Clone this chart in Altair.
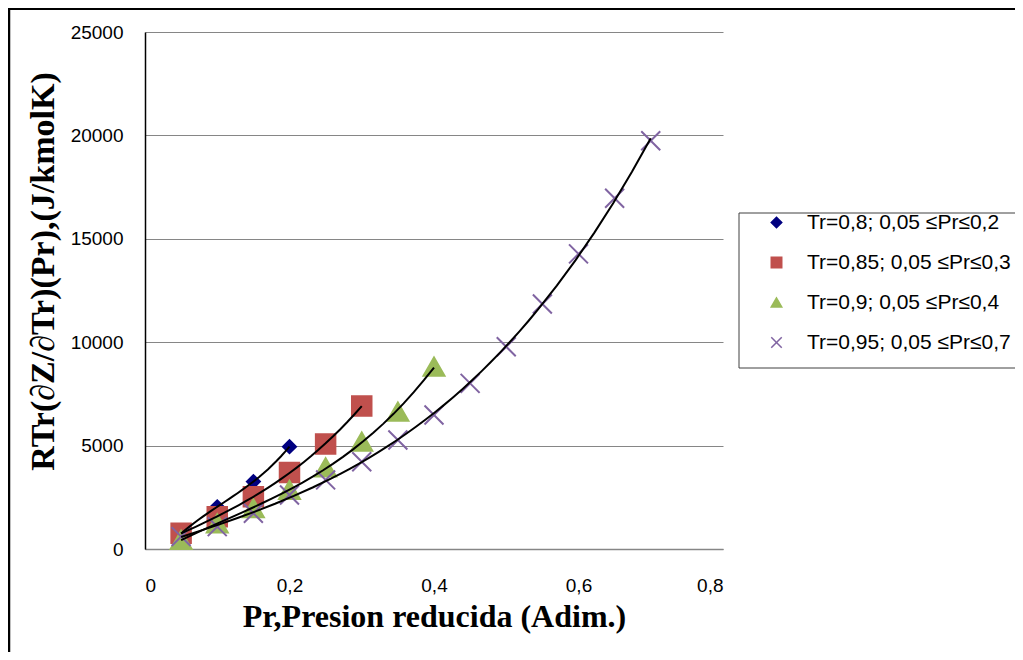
import altair as alt
import pandas as pd

series_names = [
    "Tr=0,8; 0,05 ≤Pr≤0,2",
    "Tr=0,85; 0,05 ≤Pr≤0,3",
    "Tr=0,9; 0,05 ≤Pr≤0,4",
    "Tr=0,95; 0,05 ≤Pr≤0,7",
]

pr_08 = [0.05, 0.10, 0.15, 0.20]
val_08 = [750, 2040, 3260, 4950]

pr_085 = [0.05, 0.10, 0.15, 0.20, 0.25, 0.30]
val_085 = [760, 1560, 2530, 3700, 5080, 6920]

pr_09 = [0.05, 0.10, 0.15, 0.20, 0.25, 0.30, 0.35, 0.40]
val_09 = [440, 1240, 1970, 2860, 3950, 5190, 6640, 8820]

pr_095 = [0.05, 0.10, 0.15, 0.20, 0.25, 0.30, 0.35, 0.40, 0.45, 0.50, 0.55, 0.60, 0.65, 0.70]
val_095 = [600, 1080, 1730, 2610, 3340, 4220, 5270, 6480, 8010, 9780, 11850, 14270, 16960, 19740]

x_ticks = [0, 0.2, 0.4, 0.6, 0.8]
y_ticks = [0, 5000, 10000, 15000, 20000, 25000]

colors = ["#000080", "#C0504D", "#9BBB59", "#8064A2"]
shapes = ["diamond", "square", "triangle-up", "M-1,-1L1,1M-1,1L1,-1"]
sizes = [170, 380, 440, 360]

rows = []
for name, xs, ys in zip(series_names, [pr_08, pr_085, pr_09, pr_095],
                        [val_08, val_085, val_09, val_095]):
    for x, y in zip(xs, ys):
        rows.append({"series": name, "Pr": x, "val": y})
df = pd.DataFrame(rows)

W, H = 578, 517

leg = alt.Legend(
    title=None, orient="none", legendX=621, legendY=180,
    labelFont="Liberation Sans", labelFontSize=21, labelColor="black",
    labelOffset=20, labelLimit=400, rowPadding=18, symbolSize=110,
    symbolStrokeWidth=1.5, padding=0,
)

xscale = alt.Scale(domain=[0, 0.8], nice=False, zero=False)
yscale = alt.Scale(domain=[0, 25000], nice=False, zero=False)
fill_scale = alt.Scale(domain=series_names, range=colors)
shape_scale = alt.Scale(domain=series_names, range=shapes)

x_enc = alt.X("Pr:Q", scale=xscale, axis=alt.Axis(
    values=x_ticks, format="~g", labelExpr="replace(datum.label, '.', ',')",
    title="Pr,Presion reducida (Adim.)", grid=False, ticks=False,
    domainColor="#868686", domainWidth=1.5, labelPadding=27,
    titleY=77, titleBaseline="alphabetic", titleFontSize=32))
y_enc = alt.Y("val:Q", scale=yscale, axis=alt.Axis(
    values=y_ticks, format="d", title="RTr(∂Z/∂Tr)(Pr),(J/kmolK)",
    grid=True, gridColor="#868686", gridWidth=1, ticks=False,
    domainColor="black", domainWidth=1.5, labelPadding=22,
    titleX=-92, titleY=239, titleAlign="center", titleBaseline="alphabetic",
    titleFontSize=34))

point_layers = []
for name, sz in zip(series_names, sizes):
    point_layers.append(
        alt.Chart(df).transform_filter(alt.datum.series == name)
        .mark_point(filled=True, strokeWidth=2, opacity=1, size=sz)
        .encode(
            x=x_enc, y=y_enc,
            fill=alt.Fill("series:N", scale=fill_scale, legend=leg),
            shape=alt.Shape("series:N", scale=shape_scale, legend=leg),
            stroke=alt.Stroke("series:N", scale=fill_scale, legend=leg),
        )
    )

lines = alt.Chart(df).transform_regression(
    "Pr", "val", groupby=["series"], method="poly", order=3
).mark_line(color="black", strokeWidth=2).encode(
    x=alt.X("Pr:Q", scale=xscale),
    y=alt.Y("val:Q", scale=yscale),
    detail="series:N",
)

one = pd.DataFrame({"a": [0]})
frame_top = alt.Chart(one).mark_rule(color="black", strokeWidth=3).encode(
    x=alt.value(-137), x2=alt.value(900), y=alt.value(-23.5))
frame_left = alt.Chart(one).mark_rule(color="black", strokeWidth=2.5).encode(
    x=alt.value(-136), y=alt.value(-25), y2=alt.value(700))
leg_top = alt.Chart(one).mark_rule(color="#404040", strokeWidth=1).encode(
    x=alt.value(594), x2=alt.value(900), y=alt.value(181))
leg_bottom = alt.Chart(one).mark_rule(color="#404040", strokeWidth=1).encode(
    x=alt.value(594), x2=alt.value(900), y=alt.value(336))
leg_left = alt.Chart(one).mark_rule(color="#404040", strokeWidth=1).encode(
    x=alt.value(594), y=alt.value(181), y2=alt.value(336))

chart = alt.layer(*point_layers, lines, frame_top, frame_left, leg_top, leg_bottom, leg_left).properties(
    width=W, height=H,
    autosize=alt.AutoSizeParams(type="none"),
    padding={"left": 137, "top": 24, "right": 292, "bottom": 103},
    background="white",
).configure_view(stroke=None).configure_axis(
    labelFont="Liberation Sans", labelFontSize=19, labelColor="black",
    titleFont="Liberation Serif", titleFontSize=30, titleFontWeight="bold",
    titleColor="black",
)

chart.save("out.html", embed_options={"renderer": "svg", "actions": False})
